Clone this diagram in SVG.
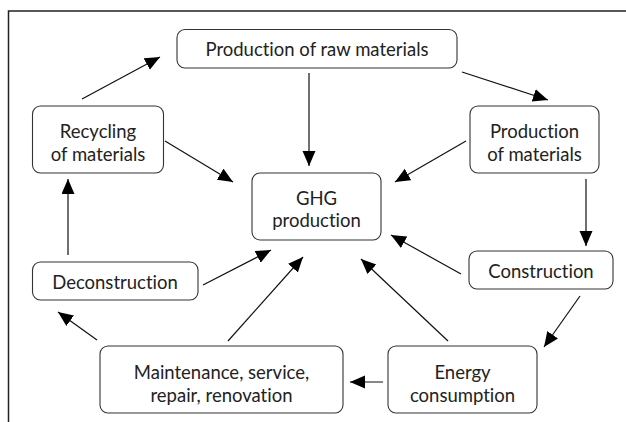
<svg xmlns="http://www.w3.org/2000/svg" width="626" height="422" viewBox="0 0 626 422">
<style>
.box{fill:#fff;stroke:#333;stroke-width:1.1}
.t{font-family:Lato,"Open Sans","Liberation Sans",sans-serif;font-size:18.5px;fill:#222;text-anchor:middle;font-variant-ligatures:none}
.c{stroke:#111;stroke-width:1.2;fill:none;marker-end:url(#ah)}
</style>
<defs>
<marker id="ah" markerUnits="userSpaceOnUse" markerWidth="16" markerHeight="14" refX="15" refY="6.5" orient="auto">
<path d="M0,0 L15,6.5 L0,13 z" fill="#000"/>
</marker>
</defs>
<rect width="626" height="422" fill="#fff"/>
<path d="M8.5,422 V11 H626" fill="none" stroke="#222" stroke-width="1.5"/>
<g id="connectors">
<line class="c" x1="82" y1="99" x2="160" y2="57"/>
<line class="c" x1="462" y1="72" x2="548" y2="100"/>
<line class="c" x1="309" y1="73" x2="309" y2="166"/>
<line class="c" x1="165" y1="141" x2="233" y2="182"/>
<line class="c" x1="466" y1="141" x2="395" y2="182"/>
<line class="c" x1="586" y1="179" x2="586" y2="246"/>
<line class="c" x1="461" y1="274" x2="391" y2="235"/>
<line class="c" x1="580" y1="296" x2="544" y2="347"/>
<line class="c" x1="448" y1="341" x2="361" y2="259"/>
<line class="c" x1="383" y1="382" x2="350" y2="382"/>
<line class="c" x1="228" y1="341" x2="303" y2="257"/>
<line class="c" x1="97" y1="340" x2="58" y2="312"/>
<line class="c" x1="203" y1="285" x2="271" y2="250"/>
<line class="c" x1="68" y1="255" x2="68" y2="179"/>
</g>
<g id="raw"><rect class="box" x="177" y="29.5" width="280" height="38.5" rx="8"/><text class="t" x="317" y="55.5">Production of raw materials</text></g>
<g id="recycling"><rect class="box" x="32.5" y="106" width="131" height="67" rx="8"/><text class="t" x="98" y="137.5">Recycling</text><text class="t" x="98" y="160.5">of materials</text></g>
<g id="ghg"><rect class="box" x="252" y="173" width="129" height="67" rx="8"/><text class="t" x="316.5" y="204.5">GHG</text><text class="t" x="316.5" y="226.5">production</text></g>
<g id="prodmat"><rect class="box" x="470" y="106" width="129" height="67" rx="8"/><text class="t" x="534.5" y="137.5">Production</text><text class="t" x="534.5" y="160.5">of materials</text></g>
<g id="construction"><rect class="box" x="469" y="251" width="144" height="38" rx="8"/><text class="t" x="541" y="277.5">Construction</text></g>
<g id="deconstruction"><rect class="box" x="32.5" y="262" width="165.5" height="38" rx="8"/><text class="t" x="115" y="288.5">Deconstruction</text></g>
<g id="maintenance"><rect class="box" x="100" y="346" width="243" height="67" rx="8"/><text class="t" x="221.5" y="378.5">Maintenance, service,</text><text class="t" x="221.5" y="401.5">repair, renovation</text></g>
<g id="energy"><rect class="box" x="388" y="346" width="149" height="67" rx="8"/><text class="t" x="462.5" y="378.5">Energy</text><text class="t" x="462.5" y="401.5">consumption</text></g>
</svg>
